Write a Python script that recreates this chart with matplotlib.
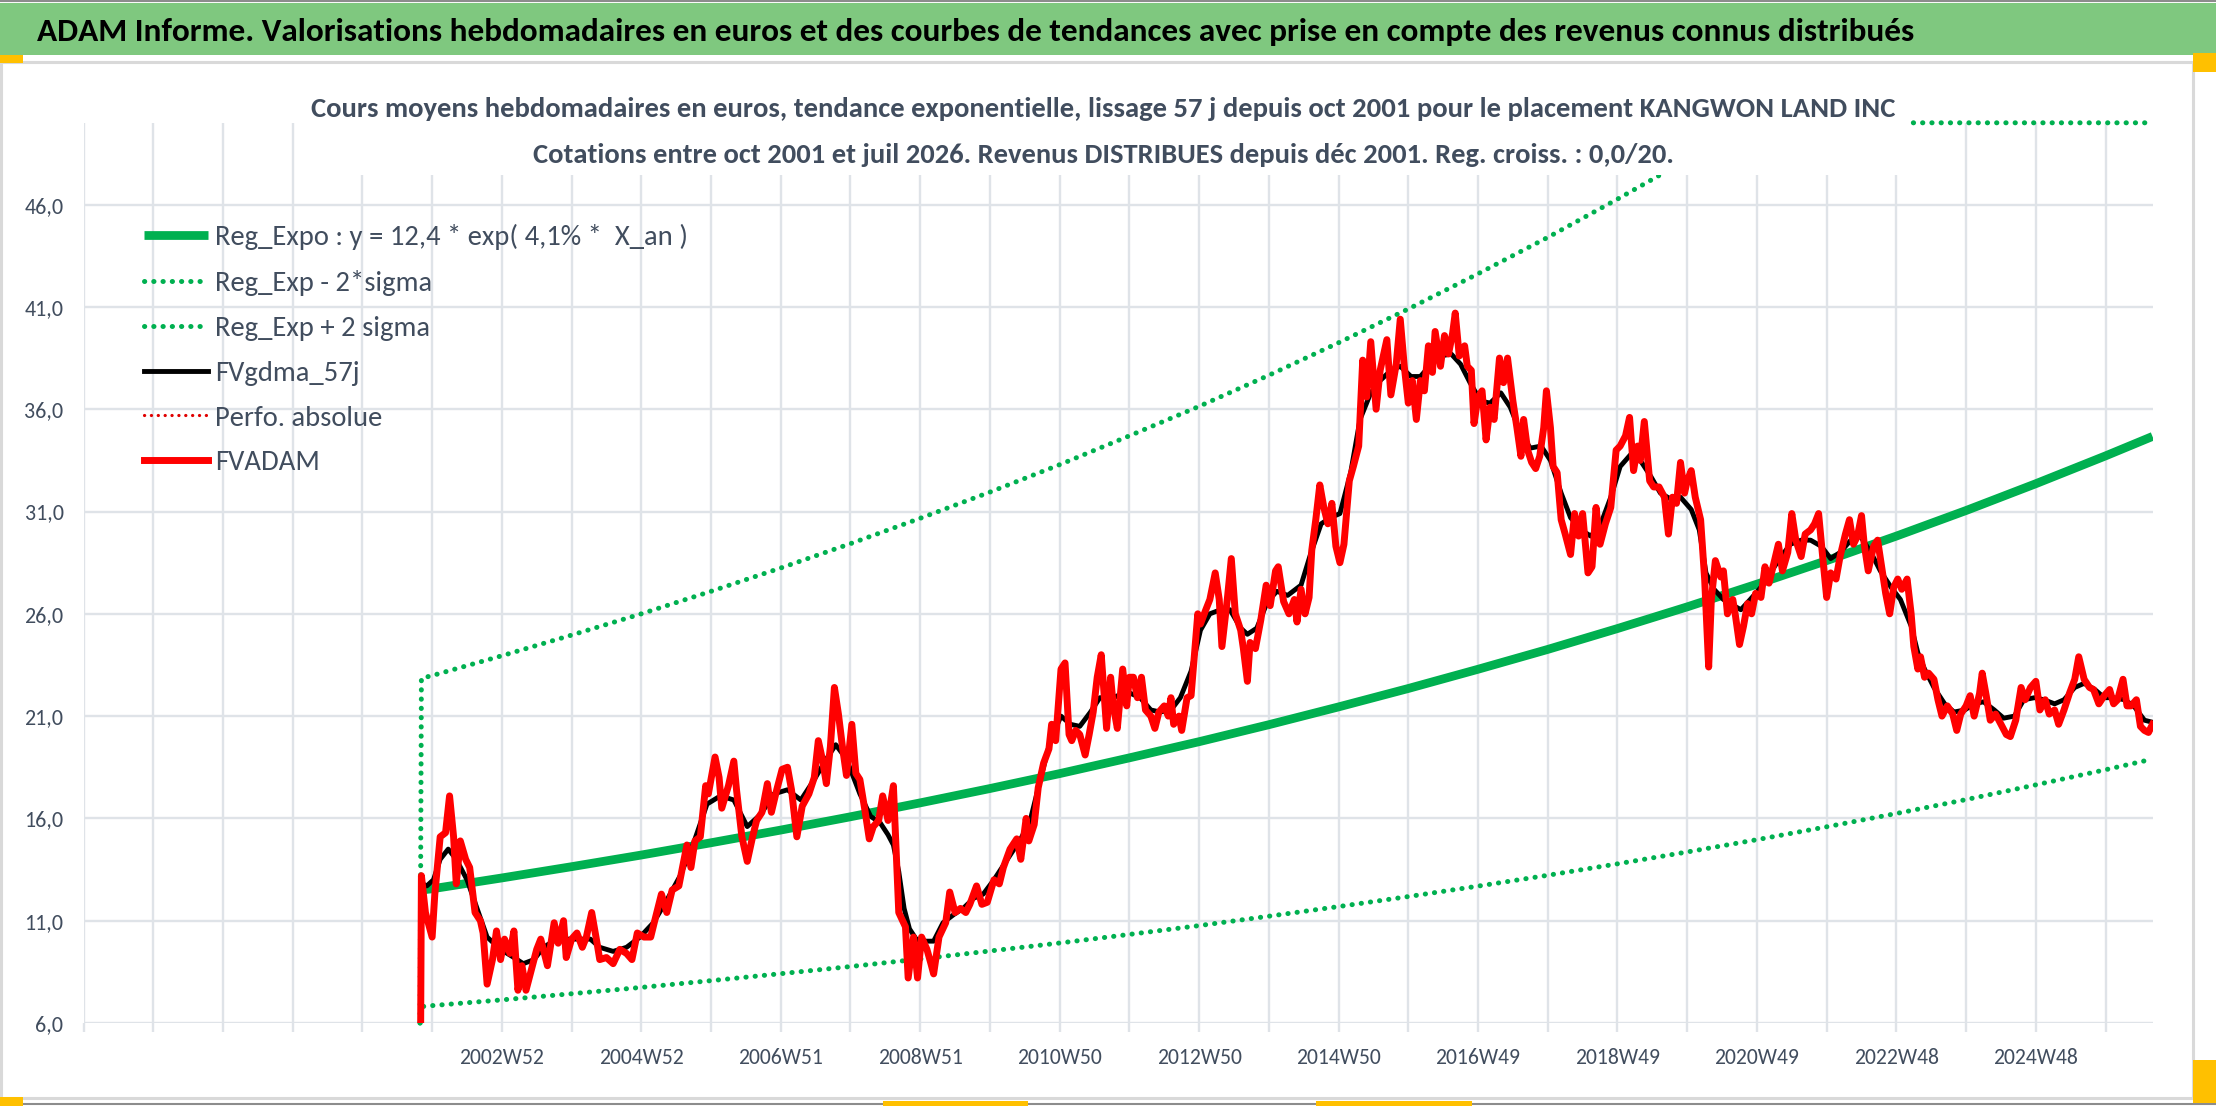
import numpy as np
import matplotlib
matplotlib.use("Agg")
import matplotlib.pyplot as plt
from matplotlib import font_manager as fm
from matplotlib.patches import Rectangle
from matplotlib.lines import Line2D

# ------------------------------------------------------------------ data
header_text = ("ADAM Informe. Valorisations hebdomadaires en euros et des courbes de tendances "
               "avec prise en compte des revenus connus distribués")
subtitle_1 = ("Cours moyens hebdomadaires en euros, tendance exponentielle, lissage 57 j depuis "
              "oct 2001 pour le placement KANGWON LAND INC")
subtitle_2 = ("Cotations entre oct 2001 et juil 2026. Revenus DISTRIBUES depuis déc 2001. "
              "Reg. croiss. : 0,0/20.")
legend_labels = ["Reg_Expo : y = 12,4 * exp( 4,1% *  X_an )", "Reg_Exp - 2*sigma",
                 "Reg_Exp + 2 sigma", "FVgdma_57j", "Perfo. absolue", "FVADAM"]

x_tick_labels = ["2002W52", "2004W52", "2006W51", "2008W51", "2010W50", "2012W50",
                 "2014W50", "2016W49", "2018W49", "2020W49", "2022W48", "2024W48"]
x_tick_weeks = [312, 416, 520, 624, 728, 832, 936, 1040, 1144, 1248, 1352, 1456]
last_week = 1543
weeks_per_year = 52
y_ticks = [6, 11, 16, 21, 26, 31, 36, 41, 46]
y_range = (6, 50)

# weekly FVADAM
fvadam_weeks = [
    251, 252, 255, 260, 262, 266, 270, 273, 276, 278, 281, 285, 288, 292, 296, 298, 301, 305, 308, 311,
    314, 318, 321, 324, 327, 330, 334, 338, 341, 346, 351, 354, 358, 360, 364, 368, 372, 375, 379, 383,
    385, 390, 395, 400, 405, 409, 413, 418, 423, 426, 431, 435, 439, 444, 450, 453, 456, 460, 464, 466,
    471, 474, 476, 481, 485, 487, 491, 495, 499, 502, 506, 510, 513, 517, 521, 525, 528, 532, 536, 541,
    545, 548, 551, 554, 557, 560, 563, 566, 569, 573, 576, 579, 583, 586, 589, 593, 596, 600, 604, 608,
    613, 615, 619, 622, 625, 629, 632, 634, 638, 643, 646, 650, 654, 658, 661, 666, 670, 674, 679, 683,
    686, 691, 696, 699, 703, 705, 709, 712, 716, 720, 722, 725, 729, 732, 735, 737, 740, 743, 747, 750,
    753, 756, 759, 763, 766, 768, 771, 775, 778, 780, 783, 786, 789, 792, 796, 799, 802, 806, 809, 811,
    813, 817, 819, 823, 826, 828, 831, 833, 837, 840, 844, 847, 849, 853, 856, 859, 863, 865, 868, 870,
    874, 878, 882, 885, 889, 891, 895, 899, 903, 905, 908, 911, 914, 916, 919, 922, 925, 928, 931, 934,
    937, 940, 944, 947, 951, 954, 957, 960, 964, 967, 972, 975, 979, 982, 985, 988, 991, 994, 997, 1000,
    1003, 1006, 1008, 1012, 1015, 1018, 1021, 1023, 1026, 1030, 1032, 1035, 1037, 1040, 1043, 1046, 1049, 1052, 1056, 1059,
    1062, 1066, 1069, 1072, 1074, 1077, 1080, 1083, 1086, 1089, 1091, 1094, 1096, 1099, 1102, 1105, 1109, 1112, 1115, 1118,
    1122, 1125, 1128, 1131, 1135, 1139, 1143, 1146, 1150, 1153, 1156, 1159, 1161, 1164, 1168, 1171, 1175, 1179, 1182, 1185,
    1188, 1191, 1194, 1196, 1199, 1202, 1206, 1209, 1212, 1214, 1217, 1221, 1223, 1226, 1230, 1232, 1235, 1238, 1241, 1244,
    1247, 1251, 1254, 1257, 1260, 1264, 1267, 1271, 1274, 1277, 1281, 1284, 1288, 1291, 1294, 1297, 1300, 1303, 1307, 1310,
    1314, 1317, 1320, 1323, 1326, 1328, 1331, 1335, 1338, 1341, 1344, 1347, 1350, 1353, 1356, 1360, 1363, 1365, 1368, 1370,
    1373, 1376, 1380, 1383, 1386, 1390, 1394, 1397, 1400, 1404, 1407, 1410, 1414, 1416, 1419, 1422, 1426, 1430, 1434, 1437,
    1441, 1445, 1448, 1452, 1456, 1459, 1463, 1466, 1470, 1473, 1477, 1481, 1485, 1488, 1492, 1496, 1499, 1503, 1507, 1511,
    1514, 1517, 1521, 1524, 1527, 1531, 1534, 1537, 1540, 1543]
fvadam_values = [
    0.0, 13.2, 11.4, 10.2, 12.3, 15.1, 15.3, 17.1, 15.1, 12.8, 14.9, 14.0, 13.6, 11.4, 11.0, 10.4, 7.9, 9.1, 10.5, 9.1,
    10.1, 9.4, 10.5, 7.6, 8.8, 7.6, 8.6, 9.6, 10.1, 8.8, 10.9, 9.9, 11.0, 9.2, 10.1, 10.4, 9.7, 10.2, 11.4, 9.9,
    9.1, 9.2, 8.9, 9.6, 9.4, 9.1, 10.4, 10.2, 10.2, 11.0, 12.3, 11.4, 12.5, 12.7, 14.7, 13.6, 14.9, 15.1, 17.6, 17.2,
    19.0, 18.0, 16.5, 17.6, 18.8, 17.4, 15.1, 13.9, 15.1, 15.9, 16.3, 17.7, 16.3, 17.4, 18.4, 18.5, 17.4, 15.1, 16.6, 17.2,
    18.0, 19.8, 18.9, 17.7, 19.5, 22.4, 21.1, 19.5, 18.1, 20.6, 18.2, 17.9, 16.3, 15.0, 15.6, 15.9, 17.1, 15.9, 17.6, 11.4,
    10.7, 8.2, 10.2, 8.2, 10.2, 9.6, 8.9, 8.4, 10.2, 10.9, 12.4, 11.4, 11.6, 11.4, 11.8, 12.7, 11.8, 11.9, 13.0, 12.8,
    13.6, 14.5, 15.0, 14.0, 16.0, 14.9, 15.7, 17.5, 18.7, 19.4, 20.6, 19.8, 23.3, 23.6, 20.1, 19.8, 20.3, 20.1, 19.1, 20.1,
    21.2, 22.9, 24.0, 20.4, 22.9, 21.5, 20.4, 23.3, 21.5, 22.9, 22.9, 21.9, 22.9, 21.3, 21.0, 20.4, 21.2, 21.5, 21.0, 21.9,
    20.6, 21.0, 20.3, 21.9, 22.0, 23.6, 26.0, 25.5, 26.2, 26.7, 28.0, 26.7, 24.4, 26.7, 28.7, 26.0, 25.2, 24.3, 22.7, 24.6,
    24.3, 25.7, 27.4, 26.4, 28.1, 28.3, 26.6, 26.0, 26.7, 25.6, 27.2, 26.0, 26.8, 29.1, 30.6, 32.3, 31.2, 30.4, 31.4, 29.3,
    28.5, 29.4, 32.5, 33.2, 34.2, 38.4, 36.6, 39.3, 36.0, 37.9, 39.4, 36.7, 38.2, 40.4, 38.1, 36.3, 37.4, 35.5, 37.4, 36.9,
    39.1, 37.8, 39.8, 38.1, 39.6, 38.7, 39.7, 40.7, 38.6, 39.1, 38.1, 37.9, 35.3, 36.6, 36.9, 34.5, 36.1, 35.5, 38.5, 37.3,
    38.5, 36.4, 35.1, 33.7, 35.5, 34.0, 33.4, 33.1, 33.7, 35.1, 36.9, 35.1, 33.2, 32.9, 30.6, 29.9, 28.9, 30.9, 29.8, 30.9,
    28.0, 28.3, 31.2, 29.4, 30.4, 31.2, 34.0, 34.2, 34.7, 35.6, 33.0, 34.2, 33.5, 35.4, 32.5, 32.2, 32.2, 31.7, 29.9, 31.7,
    31.4, 33.4, 31.9, 32.5, 33.0, 31.7, 30.6, 27.7, 23.4, 26.7, 28.6, 27.8, 28.1, 26.0, 26.7, 25.9, 24.5, 25.4, 26.5, 26.0,
    27.0, 26.8, 28.3, 27.5, 28.3, 29.4, 28.1, 29.0, 30.9, 29.6, 28.8, 29.9, 30.1, 30.4, 30.9, 28.8, 26.8, 28.0, 27.7, 28.8,
    29.9, 30.6, 29.4, 29.8, 30.8, 29.4, 28.1, 29.3, 29.6, 28.3, 27.0, 26.0, 27.3, 27.7, 27.2, 27.7, 26.0, 24.4, 23.3, 23.9,
    22.9, 23.1, 22.8, 21.8, 21.0, 21.5, 21.1, 20.3, 21.1, 21.5, 22.0, 21.0, 22.1, 23.1, 22.0, 20.8, 21.1, 20.6, 20.1, 20.0,
    20.8, 22.4, 21.8, 22.4, 22.7, 21.3, 21.8, 21.1, 21.3, 20.6, 21.3, 22.1, 22.8, 23.9, 22.8, 22.4, 22.3, 21.6, 22.0, 22.3,
    21.6, 21.8, 22.8, 21.5, 21.5, 21.8, 20.5, 20.3, 20.2, 20.6]

# FVgdma_57j smoothed line
gdma_weeks = [
    253, 256, 261, 266, 272, 278, 286, 293, 301, 311, 321, 328, 336, 343, 353, 365, 378, 385, 395, 405,
    415, 425, 435, 445, 455, 465, 475, 485, 495, 505, 515, 525, 535, 545, 554, 561, 569, 579, 587, 594,
    600, 604, 608, 612, 616, 621, 627, 634, 641, 649, 656, 664, 671, 679, 689, 699, 706, 714, 721, 729,
    736, 743, 751, 758, 768, 778, 788, 796, 803, 811, 818, 826, 833, 840, 848, 855, 863, 868, 875, 883,
    890, 898, 908, 915, 923, 930, 937, 945, 952, 960, 967, 975, 982, 990, 997, 1005, 1012, 1020, 1027, 1034,
    1042, 1049, 1057, 1064, 1072, 1079, 1087, 1094, 1102, 1109, 1117, 1124, 1131, 1139, 1146, 1154, 1161, 1169, 1176, 1184,
    1191, 1199, 1205, 1210, 1216, 1223, 1228, 1236, 1243, 1251, 1258, 1266, 1273, 1281, 1288, 1296, 1303, 1310, 1318, 1325,
    1333, 1340, 1348, 1355, 1363, 1368, 1373, 1380, 1388, 1395, 1403, 1410, 1417, 1425, 1432, 1440, 1447, 1455, 1462, 1470,
    1477, 1485, 1492, 1500, 1507, 1514, 1522, 1529, 1537, 1543]
gdma_values = [
    12.8, 12.7, 13.0, 14.0, 14.5, 14.0, 13.0, 11.7, 10.2, 9.6, 9.2, 8.9, 9.1, 9.7, 10.1, 10.1, 10.1, 9.7, 9.5, 9.7,
    10.2, 10.9, 12.0, 13.2, 14.8, 16.7, 17.1, 16.9, 15.6, 16.2, 17.2, 17.4, 16.9, 17.9, 18.9, 19.6, 18.9, 17.2, 16.1, 15.8,
    15.2, 14.7, 13.4, 11.6, 10.6, 10.1, 10.0, 10.0, 10.9, 11.3, 11.6, 12.1, 12.3, 13.0, 14.0, 15.0, 15.9, 18.0, 19.8, 21.0,
    20.6, 20.5, 21.2, 21.9, 21.9, 22.2, 21.9, 21.3, 21.2, 21.3, 21.9, 23.2, 25.2, 26.0, 26.2, 26.2, 25.3, 25.0, 25.3, 26.6,
    27.1, 26.9, 27.4, 28.9, 30.4, 30.7, 30.9, 32.9, 35.5, 36.8, 37.4, 37.9, 38.1, 37.6, 37.6, 38.2, 38.6, 38.7, 38.2, 37.3,
    36.4, 36.3, 36.8, 36.1, 34.8, 34.1, 34.2, 33.5, 31.9, 30.7, 30.1, 29.8, 30.3, 31.7, 33.2, 33.8, 33.5, 32.7, 31.9, 31.6,
    31.7, 31.1, 30.1, 28.0, 27.2, 26.7, 26.5, 26.2, 26.7, 27.3, 28.0, 28.8, 29.4, 29.6, 29.6, 29.3, 28.7, 29.0, 29.6, 29.8,
    29.0, 28.1, 27.3, 26.7, 25.4, 24.1, 23.3, 22.4, 21.6, 21.2, 21.3, 21.6, 21.7, 21.3, 20.9, 21.0, 21.8, 21.9, 21.8, 21.6,
    21.8, 22.4, 22.6, 22.3, 21.9, 21.9, 21.8, 21.5, 20.8, 20.7]

# exponential trend and +/- 2 sigma bands, read at each yearly grid line
trend_weeks = [252, 260, 312, 364, 416, 468, 520, 572, 624, 676, 728, 780, 832, 884, 936,
               988, 1040, 1092, 1144, 1196, 1248, 1300, 1352, 1404, 1456, 1508, 1543]
reg_expo = [12.5, 12.56, 13.09, 13.64, 14.21, 14.81, 15.43, 16.08, 16.76, 17.46, 18.19, 18.96, 19.75, 20.58, 21.45,
            22.35, 23.29, 24.26, 25.28, 26.34, 27.45, 28.60, 29.80, 31.05, 32.36, 33.72, 34.67]
band_weeks = [251] + trend_weeks
reg_minus = [0.0, 6.8, 6.85, 7.13, 7.43, 7.74, 8.07, 8.41, 8.76, 9.13, 9.52, 9.91, 10.33, 10.76, 11.22, 11.69,
             12.18, 12.69, 13.22, 13.78, 14.36, 14.96, 15.59, 16.24, 16.92, 17.64, 18.38, 18.9]
reg_plus = [0.0, 22.85, 22.98, 23.95, 24.96, 26.00, 27.10, 28.24, 29.43, 30.67, 31.95, 33.29, 34.70, 36.14, 37.66,
            39.25, 40.90, 42.62, 44.40, 46.27, 48.20, 50.23, 52.3, 54.5, 56.8, 59.2, 61.7, 63.4]

# ------------------------------------------------------------------ style
W, H = 2216, 1106
GREEN = "#00b050"
HEADER_GREEN = "#7fc87f"
GRID = "#dfe3e8"
TXT = "#414d5e"

names = {f.name for f in fm.fontManager.ttflist}
FONT, STRETCH = None, "normal"
for cand in ["Carlito", "Liberation Sans Narrow", "Noto Sans Condensed", "Noto Sans SemiCondensed",
             "DejaVu Sans Condensed", "Roboto Condensed", "Open Sans Condensed"]:
    if cand in names:
        FONT = cand
        break
if FONT is None:
    for fam in ["Noto Sans", "DejaVu Sans", "Open Sans"]:
        if any(f.name == fam and str(f.stretch) in ("condensed", "semi-condensed")
               for f in fm.fontManager.ttflist):
            FONT, STRETCH = fam, "condensed"
            break
if FONT is None:
    FONT = "Lato" if "Lato" in names else "DejaVu Sans"

plt.rcParams["font.family"] = [FONT, "DejaVu Sans"]
plt.rcParams["font.stretch"] = STRETCH

fig = plt.figure(figsize=(W / 100, H / 100), dpi=100)
fig.patch.set_facecolor("white")
R = fig.canvas.get_renderer()


def fx(x):
    return x / W


def fy(y):
    return 1 - y / H


def fit(s, target_px, weight="normal"):
    t = fig.text(0, 0, s, fontsize=20, weight=weight)
    w = t.get_window_extent(R).width
    t.remove()
    return 20 * target_px / w


def text_h(s, size):
    t = fig.text(0, 0, s, fontsize=size)
    h = t.get_window_extent(R).height
    t.remove()
    return h


# frame, header band, small handles
fig.add_artist(Rectangle((0, fy(55)), 1, 52 / H, transform=fig.transFigure,
                         facecolor=HEADER_GREEN, edgecolor="none", zorder=1))
fig.add_artist(Line2D([0, 1], [fy(1), fy(1)], transform=fig.transFigure, color="#8c8c8c", lw=1.5))
fig.add_artist(Line2D([0, 1], [fy(1104), fy(1104)], transform=fig.transFigure, color="#8c8c8c", lw=1.5))
fig.add_artist(Rectangle((fx(1), fy(1098)), (2193 - 1) / W, (1098 - 62) / H, transform=fig.transFigure,
                         facecolor="none", edgecolor="#d9d9d9", lw=2.2, zorder=1))
for (x0, y0, x1, y1) in [(0, 55, 23, 63), (0, 1097, 23, 1106), (2193, 53, 2216, 72),
                         (2193, 1060, 2216, 1103), (883, 1101, 1028, 1106), (1316, 1101, 1472, 1106)]:
    fig.add_artist(Rectangle((fx(x0), fy(y1)), (x1 - x0) / W, (y1 - y0) / H, transform=fig.transFigure,
                             facecolor="#ffc000", edgecolor="none", zorder=2))

fig.text(fx(37), fy(41), header_text, ha="left", va="baseline", color="black", weight="bold",
         fontsize=fit(header_text, 1880, "bold"), zorder=3)

# ------------------------------------------------------------------ axes
ax = fig.add_axes([fx(83.5), fy(1023), (2152.5 - 83.5) / W, (1023 - 122.8) / H])
ax.set_xlim(0, last_week)
ax.set_ylim(*y_range)
for s in ax.spines.values():
    s.set_visible(False)
ax.set_axisbelow(True)

xt = np.arange(0, last_week, weeks_per_year)
lab_map = dict(zip(x_tick_weeks, x_tick_labels))
ax.set_xticks(xt)
ax.set_xticklabels([lab_map.get(int(t), "") for t in xt])
ax.set_yticks(y_ticks)
ax.set_yticklabels([f"{v:.1f}".replace(".", ",") for v in y_ticks])
ax.grid(True, color=GRID, lw=1.7)

xs = fit("2002W52", 85)
ys = fit("46,0", 39)
hx = text_h("2002W52", xs)
pad_px = (1058 - hx / 2) - (1023 + 9)
ax.tick_params(axis="x", length=6.5, width=1.7, color=GRID, pad=max(pad_px, 1) * 0.72,
               labelsize=xs, labelcolor=TXT)
ax.tick_params(axis="y", length=0, pad=14.4, labelsize=ys, labelcolor=TXT)

dot = (0, (0.05, 1.8))
h1, = ax.plot(trend_weeks, reg_expo, color=GREEN, lw=6.3, solid_capstyle="butt")
h2, = ax.plot(band_weeks, np.clip(reg_minus, *y_range), color=GREEN, lw=3.6, ls=dot,
              dash_capstyle="round", clip_on=False)
h3, = ax.plot(band_weeks, np.clip(reg_plus, *y_range), color=GREEN, lw=3.6, ls=dot,
              dash_capstyle="round", clip_on=False)
h4, = ax.plot(gdma_weeks, gdma_values, color="black", lw=3.5, solid_joinstyle="round")
h5, = ax.plot([], [], color="#e00000", lw=2.3, ls=(0, (0.05, 2.1)), dash_capstyle="round")
h6, = ax.plot(fvadam_weeks, fvadam_values, color="#ff0000", lw=5.0, solid_joinstyle="round")

# legend
lf = fit(legend_labels[0], 473)
lf_px = lf * 100 / 72
lh = text_h(legend_labels[0], lf)
leg = ax.legend([h1, h2, h3, h4, h5, h6], legend_labels, loc="upper left",
                bbox_to_anchor=(fx(144), fy(236.7 - lh / 2)), bbox_transform=fig.transFigure,
                frameon=False, fontsize=lf, labelcolor=TXT, borderpad=0, borderaxespad=0,
                handlelength=64 / lf_px, handletextpad=7 / lf_px,
                labelspacing=(46 - lh) / lf_px)

# subtitle on a white box covering the top of the plot area
fig.add_artist(Rectangle((fx(300), fy(175)), (1910 - 300) / W, (175 - 85) / H, transform=fig.transFigure,
                         facecolor="white", edgecolor="none", zorder=5))
fig.text(fx(1103), fy(117), subtitle_1, ha="center", va="baseline", color=TXT, weight="bold",
         fontsize=fit(subtitle_1, 1587, "bold"), zorder=6)
fig.text(fx(1103), fy(163), subtitle_2, ha="center", va="baseline", color=TXT, weight="bold",
         fontsize=fit(subtitle_2, 1142, "bold"), zorder=6)

fig.savefig("out.png", dpi=100, facecolor="white")
